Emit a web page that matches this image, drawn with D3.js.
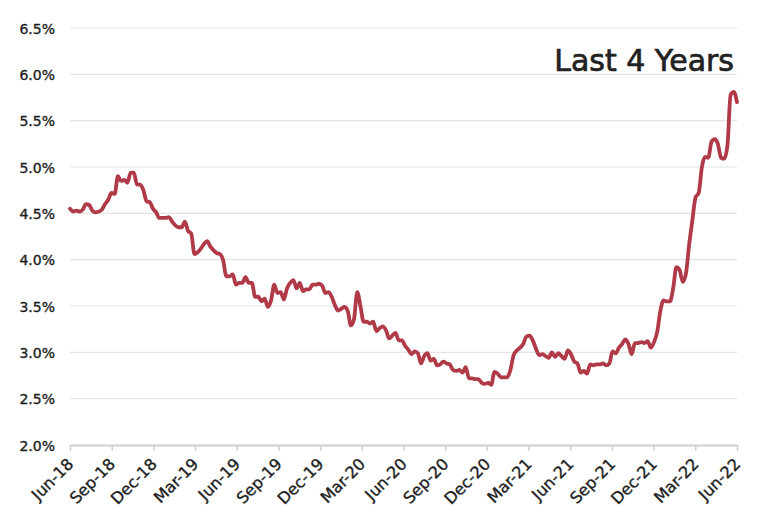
<!DOCTYPE html>
<html>
<head>
<meta charset="utf-8">
<script src="https://cdn.jsdelivr.net/npm/d3@7"></script>
<style>
  html, body { margin: 0; padding: 0; background: #fff; }
  svg { display: block; }
  text { font-family: "DejaVu Sans", sans-serif; }
</style>
</head>
<body>
<svg id="chart" width="758" height="514"></svg>
<script>
// Weekly rate (%) from Jun-28-2018 to Jun-30-2022
const rates2018 = [4.55,4.52,4.53,4.52,4.54,4.60,4.59,4.53,4.51,4.52,4.54,4.60,4.65,4.72,4.71,4.90,4.85,4.86,4.83,4.94,4.94,4.81,4.81,4.75,4.63,4.62,4.55];
const rates2019 = [4.51,4.45,4.45,4.45,4.46,4.41,4.37,4.35,4.35,4.41,4.31,4.28,4.06,4.08,4.12,4.17,4.20,4.14,4.10,4.07,4.06,3.99,3.82,3.82,3.84,3.73,3.75,3.75,3.81,3.75,3.75,3.60,3.60,3.55,3.58,3.49,3.56,3.73,3.64,3.65,3.57,3.69,3.75,3.78,3.69,3.75,3.66,3.68,3.68,3.73,3.73,3.74];
const rates2020 = [3.72,3.64,3.65,3.60,3.51,3.45,3.47,3.49,3.45,3.29,3.36,3.65,3.50,3.33,3.33,3.31,3.33,3.23,3.26,3.28,3.24,3.15,3.18,3.21,3.13,3.13,3.07,3.03,2.98,3.01,2.99,2.88,2.96,2.99,2.91,2.93,2.86,2.87,2.90,2.88,2.87,2.81,2.80,2.81,2.78,2.84,2.72,2.72,2.71,2.71,2.67,2.66,2.67];
const rates2021 = [2.65,2.79,2.77,2.73,2.73,2.73,2.81,2.97,3.02,3.05,3.09,3.17,3.18,3.13,3.04,2.97,2.98,2.96,2.94,3.00,2.95,2.99,2.96,2.93,3.02,2.98,2.90,2.88,2.78,2.80,2.77,2.87,2.86,2.87,2.87,2.88,2.86,2.88,3.01,2.99,3.05,3.09,3.14,3.09,2.98,3.10,3.10,3.11,3.10,3.12,3.05,3.11];
const rates2022 = [3.22,3.45,3.56,3.55,3.55,3.69,3.92,3.89,3.76,3.85,4.16,4.42,4.67,4.72,5.00,5.11,5.10,5.27,5.30,5.25,5.10,5.09,5.23,5.78,5.81,5.70];

const xTickLabels = ["Jun-18","Sep-18","Dec-18","Mar-19","Jun-19","Sep-19","Dec-19","Mar-20","Jun-20","Sep-20","Dec-20","Mar-21","Jun-21","Sep-21","Dec-21","Mar-22","Jun-22"];
const yTicks = [2.0,2.5,3.0,3.5,4.0,4.5,5.0,5.5,6.0,6.5];
const chartTitle = "Last 4 Years";

const values = [].concat(rates2018, rates2019, rates2020, rates2021, rates2022);
const n = values.length;

const svg = d3.select("#chart");
const mLeft = 70, mRight = 737, mTop = 28, mBottom = 445;

const x = d3.scaleLinear().domain([0, n - 1]).range([mLeft, mRight]);
const y = d3.scaleLinear().domain([2.0, 6.5]).range([mBottom, mTop]);

// gridlines
svg.append("g")
  .selectAll("line")
  .data(yTicks.filter(v => v > 2.0))
  .join("line")
  .attr("x1", mLeft).attr("x2", mRight)
  .attr("y1", d => y(d)).attr("y2", d => y(d))
  .attr("stroke", "#e4e4e4")
  .attr("stroke-width", 1.2);

// y labels
const yAxis = d3.axisLeft(y).tickValues(yTicks).tickFormat(d => d.toFixed(1) + "%").tickSize(0).tickPadding(15);
const gy = svg.append("g").attr("transform", `translate(${mLeft},0)`).call(yAxis);
gy.attr("font-size", null).attr("font-family", null);
gy.select(".domain").remove();
gy.selectAll("text")
  .style("font-family", "'DejaVu Sans', sans-serif")
  .style("font-size", "14px")
  .attr("fill", "#1e1e1e")
  .attr("stroke", "#1e1e1e")
  .attr("stroke-width", 0.35)
  .attr("dy", "0.36em");

// x axis
const tickPos = xTickLabels.map((_, i) => i * (n - 1) / (xTickLabels.length - 1));
const xAxis = d3.axisBottom(x)
  .tickValues(tickPos)
  .tickFormat((d, i) => xTickLabels[i])
  .tickSize(6)
  .tickSizeOuter(0);
const gx = svg.append("g").attr("transform", `translate(0,${mBottom})`).call(xAxis);
gx.attr("font-size", null).attr("font-family", null);
gx.select(".domain").attr("stroke", "#cfcfcf").attr("stroke-width", 2);
gx.selectAll(".tick line").attr("stroke", "#cfcfcf").attr("stroke-width", 1.5);
gx.selectAll("text")
  .style("font-family", "'DejaVu Sans', sans-serif")
  .style("font-size", "16px")
  .attr("fill", "#1e1e1e")
  .attr("stroke", "#1e1e1e")
  .attr("stroke-width", 0.35)
  .attr("text-anchor", "end")
  .attr("dy", null)
  .attr("y", null)
  .attr("transform", "translate(4,20) rotate(-45)");

// line
const line = d3.line()
  .x((d, i) => x(i))
  .y(d => y(d))
  .curve(d3.curveMonotoneX);

svg.append("path")
  .datum(values)
  .attr("d", line)
  .attr("fill", "none")
  .attr("stroke", "#b03a48")
  .attr("stroke-width", 3.8)
  .attr("stroke-linejoin", "round")
  .attr("stroke-linecap", "round");

// title
svg.append("text")
  .attr("x", 734)
  .attr("y", 71)
  .attr("text-anchor", "end")
  .style("font-family", "'DejaVu Sans', sans-serif")
  .style("font-size", "30px")
  .attr("fill", "#222")
  .attr("stroke", "#222")
  .attr("stroke-width", 0.7)
  .text(chartTitle);
</script>
</body>
</html>
